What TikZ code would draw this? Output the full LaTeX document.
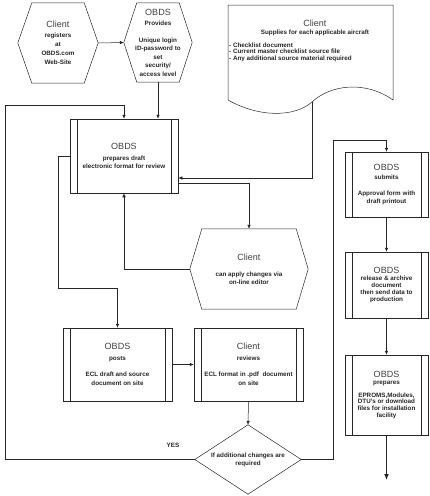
\documentclass[tikz,border=0pt]{standalone}
\usepackage{fontspec}
\setmainfont{Liberation Sans}
\usetikzlibrary{arrows.meta,calc}
\newcommand\ttl[1]{{\fontsize{9}{9}\mdseries\selectfont\color{black!75}#1}}
\newcommand\hexpath[2]{\draw[ln] (#1.west) -- ([xshift=#2]#1.north west) -- ([xshift=-#2]#1.north east) -- (#1.east) -- ([xshift=-#2]#1.south east) -- ([xshift=#2]#1.south west) -- cycle;}
\newcommand\procbars[1]{\draw[ln] ([xshift=7pt]#1.north west) -- ([xshift=7pt]#1.south west); \draw[ln] ([xshift=-7pt]#1.north east) -- ([xshift=-7pt]#1.south east);}
\begin{document}
\begin{tikzpicture}[x=1pt,y=-1pt,
  ln/.style={line width=0.5pt, draw=black!85},
  arr/.style={ln, -{Latex[length=4pt,width=3.5pt]}},
  lead/.style={font=\fontsize{6.3}{#1}\bfseries\selectfont},
  shp/.style={inner sep=0pt, align=center, lead=8, text=black!85},
  procbox/.style={shp, draw, line width=0.5pt, draw=black!85}
]
\useasboundingbox (0,0) rectangle (429,496);

% hexagons
\node[shp, lead=9, minimum width=80pt, minimum height=80pt] (hex1) at (58,43) {\ttl{Client}\\[1pt] registers\\ at\\ OBDS.com\\ Web-Site};
\hexpath{hex1}{14pt}
\node[shp, lead=8.5, minimum width=68pt, minimum height=79pt] (hex2) at (158,42.5) {\ttl{OBDS}\\[2pt] Provides\\[8pt] Unique login\\ ID-password to\\ set\\ security/\\ access level};
\hexpath{hex2}{13pt}
\node[shp, minimum width=118pt, minimum height=80pt] (hex3) at (249,269) {\ttl{Client}\\[8pt] can apply changes via\\ on-line editor};
\hexpath{hex3}{12pt}

% document shape
\draw[ln] (228,5) -- (393,5) -- (393,100) .. controls (365,80) and (330,85) .. (312,102) .. controls (295,117) and (260,118) .. (228,100) -- cycle;
\coordinate (docb) at (312,102);
\node[shp] (doc) at (315,28) {\ttl{Client}\\ Supplies for each applicable aircraft};
\node[shp, align=left, anchor=west, lead=6.5] (docl) at (229,52) {- Checklist document\\ - Current master checklist source file\\ - Any additional source material required};

% process boxes
\node[procbox, minimum width=108pt, minimum height=74pt] (box1) at (124,156) {\ttl{OBDS}\\[3pt] prepares draft\\ electronic format for review};
\procbars{box1}
\node[procbox, minimum width=83pt, minimum height=65pt] (submit) at (386.5,184.5) {\ttl{OBDS}\\[1pt] submits\\[8pt] Approval form with\\ draft printout};
\procbars{submit}
\node[procbox, lead=7, minimum width=83pt, minimum height=66pt] (release) at (386.5,285) {\ttl{OBDS}\\ release \& archive\\ document\\ then send  data to\\ production};
\procbars{release}
\node[procbox, lead=6.7, minimum width=83pt, minimum height=80pt] (prep) at (386.5,395) {\ttl{OBDS}\\ prepares\\[6pt] EPROMS,Modules,\\ DTU's or download\\ files for installation\\ facility};
\procbars{prep}
\node[procbox, lead=9, minimum width=109pt, minimum height=73pt] (posts) at (117.5,364.5) {\ttl{OBDS}\\[2pt] posts\\[7pt] ECL draft and source\\ document on site};
\procbars{posts}
\node[procbox, lead=9, minimum width=109pt, minimum height=73pt] (reviews) at (248.5,364.5) {\ttl{Client}\\[2pt] reviews\\[7pt] ECL format in .pdf\ \ document\\ on site};
\procbars{reviews}

% decision
\node[shp, minimum width=106pt, minimum height=69pt] (dia) at (248,459.5) {If additional changes are\\ required};
\draw[ln] (dia.north) -- (dia.east) -- (dia.south) -- (dia.west) -- cycle;
\node[shp] (yes) at (173,445) {YES};
\coordinate (endpt) at (386.5,480);

% connectors
\draw[arr] (hex1.east) -- (hex2.west);
\draw[arr] (hex2.south) -- (hex2.south |- box1.north);
\draw[arr] (docb) |- ([yshift=-22pt]box1.east);
\draw[arr] ([yshift=-27pt]box1.east) -| (hex3.north);
\draw[arr] (hex3.west) -| (box1.south);
\draw[arr] (box1.west) -- ++(-12,0) |- ($(posts.north)+(0,-40)$) -- (posts.north);
\draw[arr] (posts.east) -- (reviews.west);
\draw[arr] (reviews.south) -- (dia.north);
\draw[arr] (dia.west) -- ++(-190,0) |- ($(box1.north)+(0,-14)$) -- (box1.north);
\draw[arr] (dia.east) -- ++(32,0) |- ($(submit.north)+(0,-12)$) -- (submit.north);
\draw[arr] (submit.south) -- (release.north);
\draw[arr] (release.south) -- (prep.north);
\draw[line width=1.4pt, draw=black!85, -{Latex[length=6pt,width=5pt]}] (prep.south) -- (endpt);
\end{tikzpicture}
\end{document}
